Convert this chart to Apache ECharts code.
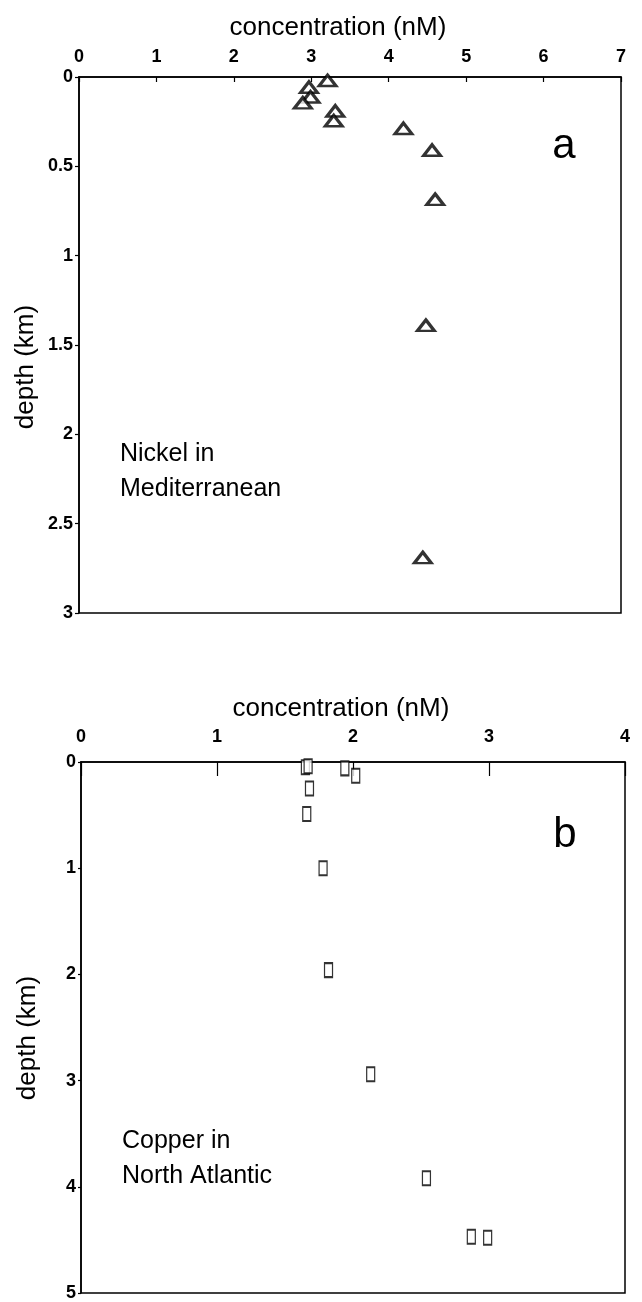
<!DOCTYPE html>
<html>
<head>
<meta charset="utf-8">
<script src="https://cdn.jsdelivr.net/npm/echarts@6/dist/echarts.min.js"></script>
<style>
html,body{margin:0;padding:0;background:#fff;}
#chart{width:642px;height:1302px;}
</style>
</head>
<body>
<div id="chart"></div>
<script>
// ---- data ----
const nickelConc  = [3.21, 2.97, 2.99, 2.89, 3.31, 3.29, 4.19, 4.56, 4.60, 4.48, 4.44];
const nickelDepth = [0.02, 0.057, 0.112, 0.145, 0.19, 0.245, 0.288, 0.41, 0.685, 1.39, 2.69];
const copperConc  = [1.65, 1.67, 1.94, 2.02, 1.68, 1.66, 1.78, 1.82, 2.13, 2.54, 2.87, 2.99];
const copperDepth = [0.05, 0.04, 0.06, 0.13, 0.25, 0.49, 1.00, 1.96, 2.94, 3.92, 4.47, 4.48];
const xTitle = 'concentration (nM)';
const yTitle = 'depth (km)';
const panelLabels = ['a', 'b'];
const noteA = ['Nickel in', 'Mediterranean'];
const noteB = ['Copper in', 'North Atlantic'];

const pairs = (xs, ys) => xs.map((x, i) => [x, ys[i]]);
const FONT = '"Liberation Sans", Arial, sans-serif';
const tickFont = {color: '#000', fontFamily: FONT, fontSize: 18, fontWeight: 'bold'};
const line = {show: true, lineStyle: {color: '#000', width: 1.5}};

const chart = echarts.init(document.getElementById('chart'), null, {renderer: 'canvas'});
chart.setOption({
  backgroundColor: '#fff',
  animation: false,
  grid: [
    {left: 79, top: 77, width: 542, height: 536, show: true, borderColor: '#000', borderWidth: 1.5},
    {left: 81, top: 762, width: 544, height: 536, show: true, borderColor: '#000', borderWidth: 1.5}
  ],
  xAxis: [
    {gridIndex: 0, type: 'value', position: 'top', min: 0, max: 7, interval: 1,
     axisLine: line, splitLine: {show: false},
     axisTick: {show: true, inside: true, length: 5, lineStyle: {color: '#000', width: 1.2}},
     axisLabel: Object.assign({margin: 11}, tickFont)},
    {gridIndex: 1, type: 'value', position: 'top', min: 0, max: 4, interval: 1,
     axisLine: line, splitLine: {show: false},
     axisTick: {show: true, inside: true, length: 14, lineStyle: {color: '#000', width: 1.2}},
     axisLabel: Object.assign({margin: 16}, tickFont)}
  ],
  yAxis: [
    {gridIndex: 0, type: 'value', inverse: true, min: 0, max: 3, interval: 0.5,
     axisLine: line, splitLine: {show: false},
     axisTick: {show: true, inside: false, length: 4, lineStyle: {color: '#000', width: 1.2}},
     axisLabel: Object.assign({margin: 6}, tickFont)},
    {gridIndex: 1, type: 'value', inverse: true, min: 0, max: 5, interval: 1,
     axisLine: line, splitLine: {show: false},
     axisTick: {show: true, inside: false, length: 3, lineStyle: {color: '#000', width: 1.2}},
     axisLabel: Object.assign({margin: 5}, tickFont)}
  ],
  series: [
    {type: 'scatter', xAxisIndex: 0, yAxisIndex: 0, data: pairs(nickelConc, nickelDepth),
     symbol: 'triangle', symbolSize: [17, 11],
     itemStyle: {color: '#fff', borderColor: '#000', borderWidth: 3}},
    {type: 'scatter', xAxisIndex: 1, yAxisIndex: 1, data: pairs(copperConc, copperDepth),
     symbol: 'rect', symbolSize: [8, 14],
     itemStyle: {color: '#fff', borderColor: '#000', borderWidth: 1.6}}
  ],
  graphic: [
    {type: 'text', x: 338, y: 28, style: {text: xTitle, font: '26px ' + FONT, fill: '#000', align: 'center', verticalAlign: 'middle'}},
    {type: 'text', x: 341, y: 709, style: {text: xTitle, font: '26px ' + FONT, fill: '#000', align: 'center', verticalAlign: 'middle'}},
    {type: 'text', x: 26, y: 367, rotation: Math.PI / 2, style: {text: yTitle, font: '26px ' + FONT, fill: '#000', align: 'center', verticalAlign: 'middle'}},
    {type: 'text', x: 28, y: 1038, rotation: Math.PI / 2, style: {text: yTitle, font: '26px ' + FONT, fill: '#000', align: 'center', verticalAlign: 'middle'}},
    {type: 'text', x: 564, y: 146, style: {text: panelLabels[0], font: '42px ' + FONT, fill: '#000', align: 'center', verticalAlign: 'middle'}},
    {type: 'text', x: 565, y: 835, style: {text: panelLabels[1], font: '42px ' + FONT, fill: '#000', align: 'center', verticalAlign: 'middle'}},
    {type: 'text', x: 120, y: 454, style: {text: noteA[0], font: '25px ' + FONT, fill: '#000', align: 'left', verticalAlign: 'middle'}},
    {type: 'text', x: 120, y: 489, style: {text: noteA[1], font: '25px ' + FONT, fill: '#000', align: 'left', verticalAlign: 'middle'}},
    {type: 'text', x: 122, y: 1141, style: {text: noteB[0], font: '25px ' + FONT, fill: '#000', align: 'left', verticalAlign: 'middle'}},
    {type: 'text', x: 122, y: 1176, style: {text: noteB[1], font: '25px ' + FONT, fill: '#000', align: 'left', verticalAlign: 'middle'}}
  ]
});
</script>
</body>
</html>
